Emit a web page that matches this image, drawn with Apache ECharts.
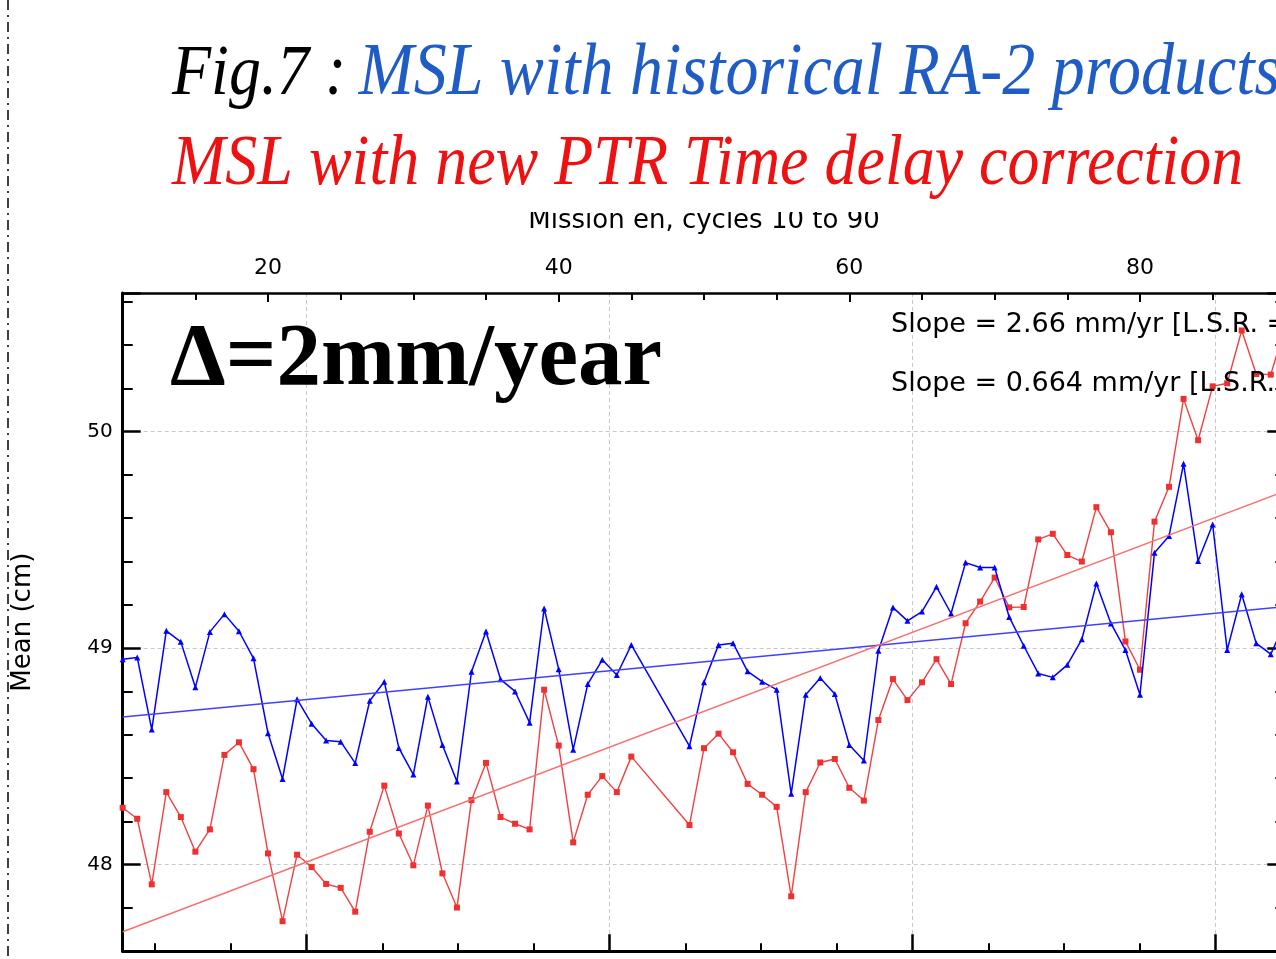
<!DOCTYPE html>
<html><head><meta charset="utf-8">
<script src="https://cdn.jsdelivr.net/npm/echarts@6/dist/echarts.min.js"></script>
<style>html,body{margin:0;padding:0;background:#fff}#c{width:1276px;height:959px}</style>
</head><body><div id="c"></div>
<script>
// ---- data ----
const cycles = [10,11,12,13,14,15,16,17,18,19,20,21,22,23,24,25,26,27,28,29,30,31,32,33,34,35,36,37,38,39,40,41,42,43,44,45,
  49,50,51,52,53,54,55,56,57,58,59,60,61,62,63,64,65,66,67,68,69,70,71,72,73,74,75,76,77,78,79,80,81,82,83,84,85,86,87,88,89,90];
const mslHistorical = [48.949,48.957,48.624,49.080,49.029,48.819,49.075,49.157,49.078,48.953,48.607,48.396,48.764,48.651,48.573,48.568,48.469,
  48.757,48.845,48.539,48.416,48.776,48.553,48.384,48.891,49.077,48.856,48.800,48.656,49.183,48.903,48.531,48.834,48.946,48.876,49.015,
  48.547,48.842,49.015,49.023,48.893,48.845,48.808,48.327,48.785,48.862,48.788,48.553,48.481,48.988,49.188,49.126,49.169,49.283,49.160,
  49.395,49.372,49.372,49.144,49.011,48.883,48.865,48.923,49.041,49.298,49.114,48.991,48.785,49.441,49.518,49.851,49.402,49.571,48.991,
  49.249,49.022,48.972,49.120];
const mslPtr = [48.263,48.212,47.909,48.335,48.220,48.060,48.163,48.507,48.565,48.441,48.052,47.739,48.046,47.989,47.911,47.893,47.783,
  48.152,48.365,48.144,47.997,48.273,47.960,47.802,48.298,48.470,48.220,48.189,48.163,48.808,48.550,48.103,48.323,48.409,48.335,48.499,
  48.183,48.538,48.605,48.519,48.373,48.323,48.267,47.854,48.335,48.472,48.488,48.355,48.296,48.668,48.857,48.760,48.842,48.949,48.834,
  49.115,49.215,49.326,49.188,49.190,49.502,49.528,49.430,49.400,49.651,49.535,49.031,48.900,49.584,49.745,50.151,49.960,50.209,50.223,
  50.467,50.266,50.263,50.490];
const trendCycles = [10, 90];
const trendHistorical = [48.682, 49.192];
const trendPtr = [47.690, 49.726];
const cycleTickLabels = [20, 40, 60, 80];
const meanTickLabels = [48, 49, 50];
const cycleRange = [10, 90];
const yearRange = [2002.787, 2010.459];
const meanRange = [47.6, 50.64];

const zip = (xs, ys) => xs.map((x, i) => [x, ys[i]]);
const FS = 'DejaVu Sans';

const chart = echarts.init(document.getElementById('c'), null, {renderer: 'canvas'});
chart.setOption({
  animation: false,
  backgroundColor: '#fff',
  grid: {left: 122.7, top: 293, width: 1162.6, height: 658.3, outerBoundsMode: 'none', containLabel: false},
  xAxis: [
    {
      type: 'value', position: 'top', min: cycleRange[0], max: cycleRange[1], splitNumber: 4,
      name: 'Mission en, cycles 10 to 90', nameLocation: 'middle', nameGap: 59,
      nameTextStyle: {fontFamily: FS, fontSize: 26, color: '#000'},
      axisLine: {show: true, onZero: false, lineStyle: {color: '#000', width: 2.5}},
      axisTick: {show: true, inside: true, length: 9, lineStyle: {color: '#000', width: 2}},
      minorTick: {show: true, splitNumber: 4, length: 7, lineStyle: {color: '#000', width: 2}},
      axisLabel: {show: true, margin: 14, fontFamily: FS, fontSize: 22, color: '#000', showMinLabel: false, showMaxLabel: false,
        formatter: v => cycleTickLabels.includes(Math.round(v * 1000) / 1000) ? String(v) : ''},
      splitLine: {show: false}
    },
    {
      type: 'value', position: 'bottom', min: yearRange[0], max: yearRange[1], splitNumber: 4,
      axisLine: {show: true, onZero: false, lineStyle: {color: '#000', width: 3}},
      axisTick: {show: true, inside: true, length: 17, lineStyle: {color: '#000', width: 2.5}},
      minorTick: {show: true, splitNumber: 4, length: 8, lineStyle: {color: '#000', width: 2}},
      axisLabel: {show: false},
      splitLine: {show: true, lineStyle: {color: '#c8c8c8', width: 1, type: [4, 3]}}
    }
  ],
  yAxis: [
    {
      type: 'value', position: 'left', min: meanRange[0], max: meanRange[1], splitNumber: 3,
      name: 'Mean (cm)', nameLocation: 'middle', nameRotate: 90, nameGap: 86,
      nameTextStyle: {fontFamily: FS, fontSize: 26, color: '#000'},
      axisLine: {show: true, onZero: false, lineStyle: {color: '#000', width: 3}},
      axisTick: {show: true, inside: true, length: 18, lineStyle: {color: '#000', width: 2.5}},
      minorTick: {show: true, splitNumber: 5, length: 10, lineStyle: {color: '#000', width: 2}},
      axisLabel: {show: true, margin: 10, fontFamily: FS, fontSize: 20, color: '#000', showMinLabel: false, showMaxLabel: false,
        formatter: v => meanTickLabels.includes(Math.round(v * 1000) / 1000) ? String(v) : ''},
      splitLine: {show: true, lineStyle: {color: '#c8c8c8', width: 1, type: [4, 3]}}
    },
    {
      type: 'value', position: 'right', min: meanRange[0], max: meanRange[1], splitNumber: 3,
      axisLine: {show: true, onZero: false, lineStyle: {color: '#000', width: 3}},
      axisTick: {show: true, inside: true, length: 18, lineStyle: {color: '#000', width: 2.5}},
      minorTick: {show: true, splitNumber: 5, length: 10, lineStyle: {color: '#000', width: 2}},
      axisLabel: {show: false},
      splitLine: {show: false}
    }
  ],
  series: [
    {
      name: 'MSL PTR', type: 'line', xAxisIndex: 0, yAxisIndex: 0, data: zip(cycles, mslPtr),
      symbol: 'rect', symbolSize: 6, showAllSymbol: true,
      lineStyle: {color: '#f04040', width: 1.4}, itemStyle: {color: '#ee3030'}, z: 3
    },
    {
      name: 'MSL historical', type: 'line', xAxisIndex: 0, yAxisIndex: 0, data: zip(cycles, mslHistorical),
      symbol: 'triangle', symbolSize: 6, showAllSymbol: true,
      lineStyle: {color: '#0000ff', width: 1.5}, itemStyle: {color: '#0000ff'}, z: 4
    },
    {
      name: 'Trend historical', type: 'line', xAxisIndex: 0, yAxisIndex: 0, data: zip(trendCycles, trendHistorical),
      symbol: 'none', lineStyle: {color: '#4040ff', width: 1.5}, z: 5
    },
    {
      name: 'Trend PTR', type: 'line', xAxisIndex: 0, yAxisIndex: 0, data: zip(trendCycles, trendPtr),
      symbol: 'none', lineStyle: {color: '#f77070', width: 1.5}, z: 5
    }
  ],
  graphic: [
    {type: 'line', z: 50, shape: {x1: 8, y1: 0, x2: 8, y2: 959}, style: {stroke: '#000', lineWidth: 1.5, lineDash: [10, 5, 2, 5]}},
    {type: 'rect', z: 100, shape: {x: 20, y: 0, width: 1256, height: 212}, style: {fill: '#fff'}},
    {type: 'text', z: 101, x: 172, y: 75, scaleY: 1.12, style: {
      text: '{k|Fig.7 :}{s| }{b|MSL with historical RA-2 products}',
      rich: {k: {fill: '#000', font: 'italic 64px "Liberation Serif"'},
             s: {fill: '#000', font: 'italic 50px "Liberation Serif"'},
             b: {fill: '#1f5cc5', font: 'italic 66px "Liberation Serif"'}},
      font: 'italic 64px "Liberation Serif"', verticalAlign: 'middle', align: 'left'}},
    {type: 'text', z: 101, x: 172, y: 165, scaleY: 1.12, style: {
      text: 'MSL with new PTR Time delay correction', fill: '#ee1111',
      font: 'italic 64px "Liberation Serif"', verticalAlign: 'middle', align: 'left'}},
    {type: 'text', z: 60, x: 170, y: 361, style: {
      text: 'Δ=2mm/year', fill: '#000', font: 'bold 89px "Liberation Serif"', verticalAlign: 'middle', align: 'left'}},
    {type: 'text', z: 60, x: 891, y: 325, style: {
      text: 'Slope = 2.66 mm/yr [L.S.R. =', fill: '#000', font: '27px "DejaVu Sans"', verticalAlign: 'middle', align: 'left'}},
    {type: 'text', z: 60, x: 891, y: 384, style: {
      text: 'Slope = 0.664 mm/yr [L.S.R. =', fill: '#000', font: '27px "DejaVu Sans"', verticalAlign: 'middle', align: 'left'}}
  ]
});
</script></body></html>
